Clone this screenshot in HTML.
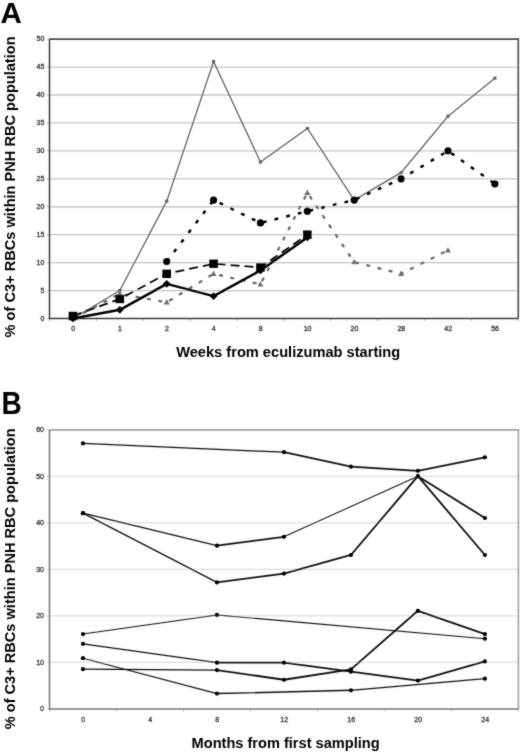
<!DOCTYPE html>
<html><head><meta charset="utf-8"><title>Figure</title>
<style>
html,body{margin:0;padding:0;background:#fff;}
body{width:520px;height:753px;overflow:hidden;}
svg{display:block;filter:grayscale(1);}
text{font-family:"Liberation Sans",sans-serif;}
.tk{font-size:7px;fill:#222;stroke:#444;stroke-width:0.3px;}
.pl{font-size:31px;font-weight:bold;fill:#000;}
.ti{font-size:14.5px;font-weight:bold;fill:#000;}
.ti2{font-size:14.5px;font-weight:bold;fill:#000;}
</style></head>
<body>
<svg width="520" height="753" viewBox="0 0 520 753">
<defs><filter id="bl" filterUnits="userSpaceOnUse" x="0" y="0" width="520" height="753"><feConvolveMatrix order="3" kernelMatrix="1 2 1 2 20 2 1 2 1" divisor="32" edgeMode="none" preserveAlpha="false"/></filter></defs>
<rect width="520" height="753" fill="#fff"/>
<g filter="url(#bl)">
<line x1="49.5" y1="290.56" x2="518.3" y2="290.56" stroke="#c4c4c4" stroke-width="1.3"/>
<line x1="49.5" y1="262.62" x2="518.3" y2="262.62" stroke="#c4c4c4" stroke-width="1.3"/>
<line x1="49.5" y1="234.68" x2="518.3" y2="234.68" stroke="#c4c4c4" stroke-width="1.3"/>
<line x1="49.5" y1="206.74" x2="518.3" y2="206.74" stroke="#c4c4c4" stroke-width="1.3"/>
<line x1="49.5" y1="178.8" x2="518.3" y2="178.8" stroke="#c4c4c4" stroke-width="1.3"/>
<line x1="49.5" y1="150.86" x2="518.3" y2="150.86" stroke="#c4c4c4" stroke-width="1.3"/>
<line x1="49.5" y1="122.92" x2="518.3" y2="122.92" stroke="#c4c4c4" stroke-width="1.3"/>
<line x1="49.5" y1="94.98" x2="518.3" y2="94.98" stroke="#c4c4c4" stroke-width="1.3"/>
<line x1="49.5" y1="67.04" x2="518.3" y2="67.04" stroke="#c4c4c4" stroke-width="1.3"/>
<line x1="49.5" y1="318.5" x2="49.5" y2="321" stroke="#999" stroke-width="0.8"/>
<line x1="96.38" y1="318.5" x2="96.38" y2="321" stroke="#999" stroke-width="0.8"/>
<line x1="143.26" y1="318.5" x2="143.26" y2="321" stroke="#999" stroke-width="0.8"/>
<line x1="190.14" y1="318.5" x2="190.14" y2="321" stroke="#999" stroke-width="0.8"/>
<line x1="237.02" y1="318.5" x2="237.02" y2="321" stroke="#999" stroke-width="0.8"/>
<line x1="283.9" y1="318.5" x2="283.9" y2="321" stroke="#999" stroke-width="0.8"/>
<line x1="330.78" y1="318.5" x2="330.78" y2="321" stroke="#999" stroke-width="0.8"/>
<line x1="377.66" y1="318.5" x2="377.66" y2="321" stroke="#999" stroke-width="0.8"/>
<line x1="424.54" y1="318.5" x2="424.54" y2="321" stroke="#999" stroke-width="0.8"/>
<line x1="471.42" y1="318.5" x2="471.42" y2="321" stroke="#999" stroke-width="0.8"/>
<line x1="518.3" y1="318.5" x2="518.3" y2="321" stroke="#999" stroke-width="0.8"/>
<line x1="47" y1="318.5" x2="49.5" y2="318.5" stroke="#999" stroke-width="0.8"/>
<line x1="47" y1="290.56" x2="49.5" y2="290.56" stroke="#999" stroke-width="0.8"/>
<line x1="47" y1="262.62" x2="49.5" y2="262.62" stroke="#999" stroke-width="0.8"/>
<line x1="47" y1="234.68" x2="49.5" y2="234.68" stroke="#999" stroke-width="0.8"/>
<line x1="47" y1="206.74" x2="49.5" y2="206.74" stroke="#999" stroke-width="0.8"/>
<line x1="47" y1="178.8" x2="49.5" y2="178.8" stroke="#999" stroke-width="0.8"/>
<line x1="47" y1="150.86" x2="49.5" y2="150.86" stroke="#999" stroke-width="0.8"/>
<line x1="47" y1="122.92" x2="49.5" y2="122.92" stroke="#999" stroke-width="0.8"/>
<line x1="47" y1="94.98" x2="49.5" y2="94.98" stroke="#999" stroke-width="0.8"/>
<line x1="47" y1="67.04" x2="49.5" y2="67.04" stroke="#999" stroke-width="0.8"/>
<line x1="47" y1="39.1" x2="49.5" y2="39.1" stroke="#999" stroke-width="0.8"/>
<path d="M49.5,39.1 H518.3 V318.5" fill="none" stroke="#4a4a4a" stroke-width="1.6"/>
<path d="M49.5,39.1 V318.5 H518.3" fill="none" stroke="#383838" stroke-width="1.5"/>
<text x="44.3" y="320.5" class="tk" text-anchor="end">0</text>
<text x="44.3" y="292.56" class="tk" text-anchor="end">5</text>
<text x="44.3" y="264.62" class="tk" text-anchor="end">10</text>
<text x="44.3" y="236.68" class="tk" text-anchor="end">15</text>
<text x="44.3" y="208.74" class="tk" text-anchor="end">20</text>
<text x="44.3" y="180.8" class="tk" text-anchor="end">25</text>
<text x="44.3" y="152.86" class="tk" text-anchor="end">30</text>
<text x="44.3" y="124.92" class="tk" text-anchor="end">35</text>
<text x="44.3" y="96.98" class="tk" text-anchor="end">40</text>
<text x="44.3" y="69.04" class="tk" text-anchor="end">45</text>
<text x="44.3" y="41.1" class="tk" text-anchor="end">50</text>
<text x="73.14" y="331" class="tk" text-anchor="middle">0</text>
<text x="120.02" y="331" class="tk" text-anchor="middle">1</text>
<text x="166.9" y="331" class="tk" text-anchor="middle">2</text>
<text x="213.78" y="331" class="tk" text-anchor="middle">4</text>
<text x="260.66" y="331" class="tk" text-anchor="middle">8</text>
<text x="307.54" y="331" class="tk" text-anchor="middle">10</text>
<text x="354.42" y="331" class="tk" text-anchor="middle">20</text>
<text x="401.3" y="331" class="tk" text-anchor="middle">28</text>
<text x="448.18" y="331" class="tk" text-anchor="middle">42</text>
<text x="495.06" y="331" class="tk" text-anchor="middle">56</text>
<polyline points="72.94,318.5 119.82,293.91 166.7,302.29 213.58,273.8 260.46,284.41 307.34,192.77 354.22,262.06 401.1,273.8 447.98,250.33" fill="none" stroke="#666" stroke-width="2.2" stroke-dasharray="4 7.5"/>
<path d="M72.94,315.3 L75.94,320.7 L69.94,320.7Z" fill="#707070"/>
<path d="M119.82,290.71 L122.82,296.11 L116.82,296.11Z" fill="#707070"/>
<path d="M166.7,299.09 L169.7,304.49 L163.7,304.49Z" fill="#707070"/>
<path d="M213.58,270.6 L216.58,276 L210.58,276Z" fill="#707070"/>
<path d="M260.46,281.21 L263.46,286.61 L257.46,286.61Z" fill="#707070"/>
<path d="M307.34,189.57 L310.34,194.97 L304.34,194.97Z" fill="#707070"/>
<path d="M354.22,258.86 L357.22,264.26 L351.22,264.26Z" fill="#707070"/>
<path d="M401.1,270.6 L404.1,276 L398.1,276Z" fill="#707070"/>
<path d="M447.98,247.13 L450.98,252.53 L444.98,252.53Z" fill="#707070"/>
<polyline points="72.94,318.5 119.82,290.56 166.7,201.15 213.58,61.45 260.46,162.04 307.34,128.51 354.22,200.03 401.1,172.65 447.98,116.21 494.86,78.22" fill="none" stroke="#666" stroke-width="1.3"/>
<rect x="71.34" y="316.9" width="3.2" height="3.2" fill="#666"/>
<rect x="118.22" y="288.96" width="3.2" height="3.2" fill="#666"/>
<rect x="165.1" y="199.55" width="3.2" height="3.2" fill="#666"/>
<rect x="211.98" y="59.85" width="3.2" height="3.2" fill="#666"/>
<rect x="258.86" y="160.44" width="3.2" height="3.2" fill="#666"/>
<rect x="305.74" y="126.91" width="3.2" height="3.2" fill="#666"/>
<rect x="352.62" y="198.43" width="3.2" height="3.2" fill="#666"/>
<rect x="399.5" y="171.05" width="3.2" height="3.2" fill="#666"/>
<rect x="446.38" y="114.61" width="3.2" height="3.2" fill="#666"/>
<rect x="493.26" y="76.62" width="3.2" height="3.2" fill="#666"/>
<polyline points="166.7,261.5 213.58,200.03 260.46,222.95 307.34,211.21 354.22,200.03 401.1,178.8 447.98,150.86 494.86,183.83" fill="none" stroke="#000" stroke-width="2.5" stroke-dasharray="3.8 8.2"/>
<circle cx="166.7" cy="261.5" r="3.6" fill="#000"/>
<circle cx="213.58" cy="200.03" r="3.6" fill="#000"/>
<circle cx="260.46" cy="222.95" r="3.6" fill="#000"/>
<circle cx="307.34" cy="211.21" r="3.6" fill="#000"/>
<circle cx="354.22" cy="200.03" r="3.6" fill="#000"/>
<circle cx="401.1" cy="178.8" r="3.6" fill="#000"/>
<circle cx="447.98" cy="150.86" r="3.6" fill="#000"/>
<circle cx="494.86" cy="183.83" r="3.6" fill="#000"/>
<polyline points="72.94,315.99 119.82,298.94 166.7,273.8 213.58,263.74 260.46,267.37 307.34,234.68" fill="none" stroke="#000" stroke-width="1.8" stroke-dasharray="9 5"/>
<rect x="68.64" y="311.79" width="8.6" height="8.4" fill="#000"/>
<rect x="115.52" y="294.74" width="8.6" height="8.4" fill="#000"/>
<rect x="162.4" y="269.6" width="8.6" height="8.4" fill="#000"/>
<rect x="209.28" y="259.54" width="8.6" height="8.4" fill="#000"/>
<rect x="256.16" y="263.17" width="8.6" height="8.4" fill="#000"/>
<rect x="303.04" y="230.48" width="8.6" height="8.4" fill="#000"/>
<polyline points="72.94,318.5 119.82,309.84 166.7,283.85 213.58,296.15 260.46,270.44 307.34,237.47" fill="none" stroke="#000" stroke-width="2.5" stroke-linejoin="round"/>
<path d="M72.94,314.7 L76.74,318.5 L72.94,322.3 L69.14,318.5Z" fill="#000"/>
<path d="M119.82,306.04 L123.62,309.84 L119.82,313.64 L116.02,309.84Z" fill="#000"/>
<path d="M166.7,280.05 L170.5,283.85 L166.7,287.65 L162.9,283.85Z" fill="#000"/>
<path d="M213.58,292.35 L217.38,296.15 L213.58,299.95 L209.78,296.15Z" fill="#000"/>
<path d="M260.46,266.64 L264.26,270.44 L260.46,274.24 L256.66,270.44Z" fill="#000"/>
<path d="M307.34,233.67 L311.14,237.47 L307.34,241.27 L303.54,237.47Z" fill="#000"/>
<line x1="49.5" y1="662.4" x2="518.4" y2="662.4" stroke="#dedede" stroke-width="1.2"/>
<line x1="49.5" y1="615.9" x2="518.4" y2="615.9" stroke="#dedede" stroke-width="1.2"/>
<line x1="49.5" y1="569.4" x2="518.4" y2="569.4" stroke="#dedede" stroke-width="1.2"/>
<line x1="49.5" y1="522.9" x2="518.4" y2="522.9" stroke="#dedede" stroke-width="1.2"/>
<line x1="49.5" y1="476.4" x2="518.4" y2="476.4" stroke="#dedede" stroke-width="1.2"/>
<line x1="49.5" y1="708.9" x2="49.5" y2="711.4" stroke="#aaa" stroke-width="0.8"/>
<line x1="116.49" y1="708.9" x2="116.49" y2="711.4" stroke="#aaa" stroke-width="0.8"/>
<line x1="183.47" y1="708.9" x2="183.47" y2="711.4" stroke="#aaa" stroke-width="0.8"/>
<line x1="250.46" y1="708.9" x2="250.46" y2="711.4" stroke="#aaa" stroke-width="0.8"/>
<line x1="317.44" y1="708.9" x2="317.44" y2="711.4" stroke="#aaa" stroke-width="0.8"/>
<line x1="384.43" y1="708.9" x2="384.43" y2="711.4" stroke="#aaa" stroke-width="0.8"/>
<line x1="451.41" y1="708.9" x2="451.41" y2="711.4" stroke="#aaa" stroke-width="0.8"/>
<line x1="518.4" y1="708.9" x2="518.4" y2="711.4" stroke="#aaa" stroke-width="0.8"/>
<line x1="47" y1="708.9" x2="49.5" y2="708.9" stroke="#bbb" stroke-width="0.8"/>
<line x1="47" y1="662.4" x2="49.5" y2="662.4" stroke="#bbb" stroke-width="0.8"/>
<line x1="47" y1="615.9" x2="49.5" y2="615.9" stroke="#bbb" stroke-width="0.8"/>
<line x1="47" y1="569.4" x2="49.5" y2="569.4" stroke="#bbb" stroke-width="0.8"/>
<line x1="47" y1="522.9" x2="49.5" y2="522.9" stroke="#bbb" stroke-width="0.8"/>
<line x1="47" y1="476.4" x2="49.5" y2="476.4" stroke="#bbb" stroke-width="0.8"/>
<line x1="47" y1="429.9" x2="49.5" y2="429.9" stroke="#bbb" stroke-width="0.8"/>
<path d="M49.5,429.9 H518.4 V708.9" fill="none" stroke="#a0a0a0" stroke-width="1.6"/>
<path d="M49.5,429.9 V708.9 H518.4" fill="none" stroke="#767676" stroke-width="1.5"/>
<text x="44" y="711.1" class="tk" text-anchor="end">0</text>
<text x="44" y="664.6" class="tk" text-anchor="end">10</text>
<text x="44" y="618.1" class="tk" text-anchor="end">20</text>
<text x="44" y="571.6" class="tk" text-anchor="end">30</text>
<text x="44" y="525.1" class="tk" text-anchor="end">40</text>
<text x="44" y="478.6" class="tk" text-anchor="end">50</text>
<text x="44" y="432.1" class="tk" text-anchor="end">60</text>
<text x="83.29" y="721.5" class="tk" text-anchor="middle">0</text>
<text x="150.28" y="721.5" class="tk" text-anchor="middle">4</text>
<text x="217.26" y="721.5" class="tk" text-anchor="middle">8</text>
<text x="284.25" y="721.5" class="tk" text-anchor="middle">12</text>
<text x="351.24" y="721.5" class="tk" text-anchor="middle">16</text>
<text x="418.22" y="721.5" class="tk" text-anchor="middle">20</text>
<text x="485.21" y="721.5" class="tk" text-anchor="middle">24</text>
<line x1="82.99" y1="443.38" x2="283.95" y2="452.22" stroke="#111" stroke-width="1.2" stroke-linecap="round"/>
<line x1="283.95" y1="452.22" x2="350.94" y2="466.63" stroke="#111" stroke-width="1.8" stroke-linecap="round"/>
<line x1="350.94" y1="466.63" x2="417.92" y2="470.82" stroke="#111" stroke-width="1.8" stroke-linecap="round"/>
<line x1="417.92" y1="470.82" x2="484.91" y2="457.33" stroke="#111" stroke-width="1.8" stroke-linecap="round"/>
<line x1="82.99" y1="513.13" x2="216.96" y2="545.68" stroke="#111" stroke-width="1.2" stroke-linecap="round"/>
<line x1="216.96" y1="545.68" x2="283.95" y2="536.85" stroke="#111" stroke-width="1.8" stroke-linecap="round"/>
<line x1="283.95" y1="536.85" x2="417.92" y2="476.17" stroke="#111" stroke-width="1.05" stroke-linecap="round"/>
<line x1="417.92" y1="476.17" x2="484.91" y2="518.02" stroke="#111" stroke-width="1.8" stroke-linecap="round"/>
<line x1="82.99" y1="513.13" x2="216.96" y2="582.42" stroke="#111" stroke-width="1.3" stroke-linecap="round"/>
<line x1="216.96" y1="582.42" x2="283.95" y2="573.59" stroke="#111" stroke-width="1.8" stroke-linecap="round"/>
<line x1="283.95" y1="573.59" x2="350.94" y2="554.99" stroke="#111" stroke-width="1.8" stroke-linecap="round"/>
<line x1="350.94" y1="554.99" x2="417.92" y2="476.17" stroke="#111" stroke-width="1.8" stroke-linecap="round"/>
<line x1="417.92" y1="476.17" x2="484.91" y2="554.99" stroke="#111" stroke-width="1.8" stroke-linecap="round"/>
<line x1="82.99" y1="634.03" x2="216.96" y2="614.97" stroke="#111" stroke-width="1.2" stroke-linecap="round"/>
<line x1="216.96" y1="614.97" x2="484.91" y2="638.68" stroke="#111" stroke-width="1.1" stroke-linecap="round"/>
<line x1="82.99" y1="643.8" x2="216.96" y2="662.63" stroke="#111" stroke-width="1.3" stroke-linecap="round"/>
<line x1="216.96" y1="662.63" x2="283.95" y2="662.63" stroke="#111" stroke-width="1.8" stroke-linecap="round"/>
<line x1="283.95" y1="662.63" x2="350.94" y2="671.7" stroke="#111" stroke-width="1.8" stroke-linecap="round"/>
<line x1="350.94" y1="671.7" x2="417.92" y2="680.53" stroke="#111" stroke-width="1.8" stroke-linecap="round"/>
<line x1="417.92" y1="680.53" x2="484.91" y2="661.47" stroke="#111" stroke-width="1.8" stroke-linecap="round"/>
<line x1="82.99" y1="669.14" x2="216.96" y2="670.07" stroke="#111" stroke-width="1.3" stroke-linecap="round"/>
<line x1="216.96" y1="670.07" x2="283.95" y2="679.74" stroke="#111" stroke-width="1.8" stroke-linecap="round"/>
<line x1="283.95" y1="679.74" x2="350.94" y2="669.38" stroke="#111" stroke-width="1.8" stroke-linecap="round"/>
<line x1="350.94" y1="669.38" x2="417.92" y2="610.78" stroke="#111" stroke-width="1.8" stroke-linecap="round"/>
<line x1="417.92" y1="610.78" x2="484.91" y2="634.03" stroke="#111" stroke-width="1.8" stroke-linecap="round"/>
<line x1="82.99" y1="658.22" x2="216.96" y2="693.55" stroke="#111" stroke-width="1.2" stroke-linecap="round"/>
<line x1="216.96" y1="693.55" x2="350.94" y2="690.3" stroke="#111" stroke-width="1.4" stroke-linecap="round"/>
<line x1="350.94" y1="690.3" x2="484.91" y2="678.67" stroke="#111" stroke-width="1.3" stroke-linecap="round"/>
<circle cx="82.99" cy="443.38" r="2.1" fill="#000"/>
<circle cx="283.95" cy="452.22" r="2.1" fill="#000"/>
<circle cx="350.94" cy="466.63" r="2.1" fill="#000"/>
<circle cx="417.92" cy="470.82" r="2.1" fill="#000"/>
<circle cx="484.91" cy="457.33" r="2.1" fill="#000"/>
<circle cx="82.99" cy="513.13" r="2.1" fill="#000"/>
<circle cx="216.96" cy="545.68" r="2.1" fill="#000"/>
<circle cx="283.95" cy="536.85" r="2.1" fill="#000"/>
<circle cx="417.92" cy="476.17" r="2.1" fill="#000"/>
<circle cx="484.91" cy="518.02" r="2.1" fill="#000"/>
<circle cx="82.99" cy="513.13" r="2.1" fill="#000"/>
<circle cx="216.96" cy="582.42" r="2.1" fill="#000"/>
<circle cx="283.95" cy="573.59" r="2.1" fill="#000"/>
<circle cx="350.94" cy="554.99" r="2.1" fill="#000"/>
<circle cx="417.92" cy="476.17" r="2.1" fill="#000"/>
<circle cx="484.91" cy="554.99" r="2.1" fill="#000"/>
<circle cx="82.99" cy="634.03" r="2.1" fill="#000"/>
<circle cx="216.96" cy="614.97" r="2.1" fill="#000"/>
<circle cx="484.91" cy="638.68" r="2.1" fill="#000"/>
<circle cx="82.99" cy="643.8" r="2.1" fill="#000"/>
<circle cx="216.96" cy="662.63" r="2.1" fill="#000"/>
<circle cx="283.95" cy="662.63" r="2.1" fill="#000"/>
<circle cx="350.94" cy="671.7" r="2.1" fill="#000"/>
<circle cx="417.92" cy="680.53" r="2.1" fill="#000"/>
<circle cx="484.91" cy="661.47" r="2.1" fill="#000"/>
<circle cx="82.99" cy="669.14" r="2.1" fill="#000"/>
<circle cx="216.96" cy="670.07" r="2.1" fill="#000"/>
<circle cx="283.95" cy="679.74" r="2.1" fill="#000"/>
<circle cx="350.94" cy="669.38" r="2.1" fill="#000"/>
<circle cx="417.92" cy="610.78" r="2.1" fill="#000"/>
<circle cx="484.91" cy="634.03" r="2.1" fill="#000"/>
<circle cx="82.99" cy="658.22" r="2.1" fill="#000"/>
<circle cx="216.96" cy="693.55" r="2.1" fill="#000"/>
<circle cx="350.94" cy="690.3" r="2.1" fill="#000"/>
<circle cx="484.91" cy="678.67" r="2.1" fill="#000"/>
<text x="0.5" y="22.6" class="pl" style="font-size:29.5px">A</text>
<text transform="translate(1.4,413.6) scale(0.92,1)" class="pl" style="font-size:30.5px">B</text>
<text transform="translate(15,337.4) rotate(-90)" class="ti" style="font-size:15px" textLength="301" lengthAdjust="spacingAndGlyphs">% of C3+ RBCs within PNH RBC population</text>
<text transform="translate(15,729.3) rotate(-90)" class="ti" style="font-size:15px" textLength="301" lengthAdjust="spacingAndGlyphs">% of C3+ RBCs within PNH RBC population</text>
<text x="176.2" y="357" class="ti" textLength="224" lengthAdjust="spacingAndGlyphs">Weeks from eculizumab starting</text>
<text x="191.6" y="748" class="ti2" textLength="188" lengthAdjust="spacingAndGlyphs">Months from first sampling</text>
</g>
</svg>
</body></html>
